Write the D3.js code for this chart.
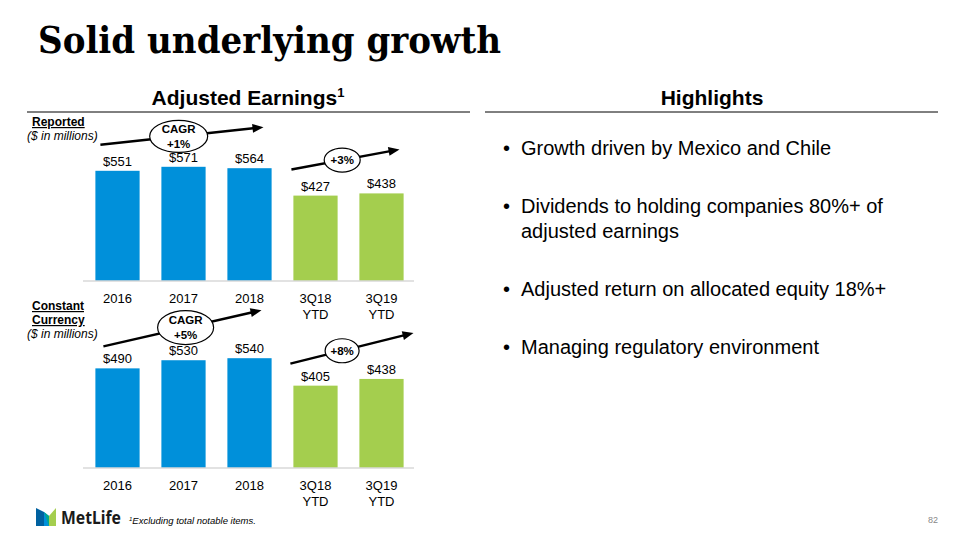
<!DOCTYPE html>
<html>
<head>
<meta charset="utf-8">
<script src="https://cdn.jsdelivr.net/npm/d3@7"></script>
<style>
  html, body { margin: 0; padding: 0; background: #fff; }
  svg { display: block; }
</style>
</head>
<body>
<svg id="chart" width="960" height="540"></svg>
<script>
// ---------- data ----------
const categories = ["2016", "2017", "2018", "3Q18 YTD", "3Q19 YTD"];
const reportedValues = [551, 571, 564, 427, 438];
const constantValues = [490, 530, 540, 405, 438];
const barTypes = ["annual", "annual", "annual", "ytd", "ytd"];
const reportedGrowth = ["CAGR\n+1%", "+3%"];
const constantGrowth = ["CAGR\n+5%", "+8%"];
const highlights = [
  ["Growth driven by Mexico and Chile"],
  ["Dividends to holding companies 80%+ of", "adjusted earnings"],
  ["Adjusted return on allocated equity 18%+"],
  ["Managing regulatory environment"]
];

// ---------- setup ----------
const svg = d3.select("#chart");
const SANS = "'Liberation Sans', Arial, sans-serif";
const color = d3.scaleOrdinal().domain(["annual", "ytd"]).range(["#0090DA", "#A4CE4E"]);

// main title
svg.append("text")
  .attr("x", 38).attr("y", 53)
  .attr("font-family", "'DejaVu Serif', Georgia, serif")
  .attr("font-weight", "bold").attr("font-size", 37)
  .attr("textLength", 463).attr("lengthAdjust", "spacingAndGlyphs")
  .attr("fill", "#000")
  .text("Solid underlying growth");

// section headers
const h1 = svg.append("text")
  .attr("x", 248).attr("y", 105).attr("text-anchor", "middle")
  .attr("font-family", SANS).attr("font-weight", "bold").attr("font-size", 21)
  .attr("fill", "#000");
h1.append("tspan").text("Adjusted Earnings");
h1.append("tspan").attr("font-size", 13).attr("dy", -8).text("1");

svg.append("line").attr("x1", 27).attr("x2", 470).attr("y1", 112).attr("y2", 112)
  .attr("stroke", "#000").attr("stroke-width", 1);

svg.append("text")
  .attr("x", 712).attr("y", 105).attr("text-anchor", "middle")
  .attr("font-family", SANS).attr("font-weight", "bold").attr("font-size", 21)
  .attr("fill", "#000").text("Highlights");

svg.append("line").attr("x1", 485).attr("x2", 938).attr("y1", 112).attr("y2", 112)
  .attr("stroke", "#000").attr("stroke-width", 1);

// highlights bullets
const bulletTops = [155, 213, 296, 354];
highlights.forEach((lines, i) => {
  svg.append("text")
    .attr("x", 503).attr("y", bulletTops[i])
    .attr("font-family", SANS).attr("font-size", 20).attr("fill", "#000")
    .text("•");
  lines.forEach((ln, j) => {
    svg.append("text")
      .attr("x", 521).attr("y", bulletTops[i] + j * 25)
      .attr("font-family", SANS).attr("font-size", 20).attr("fill", "#000")
      .text(ln);
  });
});

// ---------- bar charts ----------
const x = d3.scaleBand().domain(categories).range([84.5, 414.5])
  .paddingInner(0.33).paddingOuter(0.165);

function drawChart(cfg) {
  const y = d3.scaleLinear().domain([0, 600]).range([cfg.base, cfg.base - cfg.h]);
  const g = svg.append("g");

  // side labels
  cfg.labels.forEach((l, i) => {
    const t = g.append("text")
      .attr("x", l.italic ? 27 : 32).attr("y", cfg.labelY + i * 14)
      .attr("font-family", SANS).attr("font-size", 12).attr("fill", "#000")
      .text(l.text);
    if (l.italic) t.attr("font-style", "italic");
    else t.attr("font-weight", "bold").attr("text-decoration", "underline");
  });

  // bars
  g.selectAll("rect.bar").data(cfg.values).join("rect")
    .attr("class", "bar")
    .attr("x", (d, i) => x(categories[i]))
    .attr("width", x.bandwidth())
    .attr("y", d => y(d))
    .attr("height", d => y(0) - y(d))
    .attr("fill", (d, i) => color(barTypes[i]));

  // value labels
  g.selectAll("text.val").data(cfg.values).join("text")
    .attr("class", "val")
    .attr("x", (d, i) => x(categories[i]) + x.bandwidth() / 2)
    .attr("y", d => y(d) - 5)
    .attr("text-anchor", "middle")
    .attr("font-family", SANS).attr("font-size", 13).attr("fill", "#000")
    .text(d => "$" + d);

  // axis
  const axis = g.append("g").attr("transform", `translate(0,${cfg.base})`)
    .call(d3.axisBottom(x).tickSize(0).tickPadding(0));
  axis.select(".domain").attr("stroke", "#D9D9D9").attr("stroke-width", 1.5)
    .attr("d", `M83,0H414`);
  axis.selectAll(".tick text").each(function (d) {
    const t = d3.select(this);
    t.text(null).attr("y", 0).attr("dy", null)
      .attr("font-family", SANS).attr("font-size", 13).attr("fill", "#000");
    d.split(" ").forEach((w, k) => {
      t.append("tspan").attr("x", 0).attr("y", 22 + k * 16).text(w);
    });
  });

  // growth arrows
  cfg.arrows.forEach((a, idx) => {
    const x1 = x(categories[a.from]) + a.dx1;
    const x2 = x(categories[a.to]) + x.bandwidth() / 2 + a.dx2;
    const y1 = y(cfg.values[a.from]) + a.dy1;
    const y2 = y(cfg.values[a.to]) + a.dy2;
    const ag = g.append("g");
    const ang = Math.atan2(y2 - y1, x2 - x1);
    ag.append("line").attr("x1", x1).attr("y1", y1)
      .attr("x2", x2 - 8 * Math.cos(ang)).attr("y2", y2 - 8 * Math.sin(ang))
      .attr("stroke", "#000").attr("stroke-width", 2.5);
    const hl = 11, hw = 4.5;
    const p = [
      [x2, y2],
      [x2 - hl * Math.cos(ang) + hw * Math.sin(ang), y2 - hl * Math.sin(ang) - hw * Math.cos(ang)],
      [x2 - hl * Math.cos(ang) - hw * Math.sin(ang), y2 - hl * Math.sin(ang) + hw * Math.cos(ang)]
    ];
    ag.append("path").attr("d", d3.line()(p) + "Z").attr("fill", "#000");
    const cx = x1 + (x2 - x1) * a.t, cy = y1 + (y2 - y1) * a.t;
    ag.append("ellipse").attr("cx", cx).attr("cy", cy).attr("rx", a.rx).attr("ry", a.ry)
      .attr("fill", "#fff").attr("stroke", "#000").attr("stroke-width", 1.2);
    const lines = cfg.growth[idx].split("\n");
    lines.forEach((ln, k) => {
      ag.append("text").attr("x", cx)
        .attr("y", cy + 4 + (k - (lines.length - 1) / 2) * 15)
        .attr("text-anchor", "middle")
        .attr("font-family", SANS).attr("font-weight", "bold").attr("font-size", 11.5)
        .attr("fill", "#000").text(ln);
    });
  });
}

drawChart({
  values: reportedValues, growth: reportedGrowth, base: 281, h: 120, labelY: 126,
  labels: [{ text: "Reported" }, { text: "($ in millions)", italic: true }],
  arrows: [
    { from: 0, to: 2, dx1: 5, dx2: 14, dy1: -26, dy2: -41, t: 0.48, rx: 29, ry: 16 },
    { from: 3, to: 4, dx1: -2, dx2: 18, dy1: -26, dy2: -44, t: 0.47, rx: 18, ry: 12 }
  ]
});

drawChart({
  values: constantValues, growth: constantGrowth, base: 468, h: 122, labelY: 310,
  labels: [{ text: "Constant" }, { text: "Currency" }, { text: "($ in millions)", italic: true }],
  arrows: [
    { from: 0, to: 2, dx1: 8, dx2: 12, dy1: -22, dy2: -48, t: 0.52, rx: 28, ry: 17 },
    { from: 3, to: 4, dx1: -3, dx2: 32, dy1: -22, dy2: -46, t: 0.42, rx: 17, ry: 12 }
  ]
});

// ---------- footer ----------
const logo = svg.append("g");
logo.append("path").attr("d", "M36,508 L44,512 L44,526 L36,526 Z").attr("fill", "#0061A0");
logo.append("path").attr("d", "M44,512 L49,516 L49,526 L44,526 Z").attr("fill", "#0090DA");
logo.append("path").attr("d", "M49,516 L56,508 L56,526 L49,526 Z").attr("fill", "#A4CE4E");
logo.append("path").attr("d", "M44,512 L49,516 L49,526 Z").attr("fill", "#00A88F");
svg.append("text").attr("x", 61).attr("y", 524)
  .attr("font-family", "'Noto Sans', sans-serif").attr("font-weight", "bold").attr("font-size", 18)
  .attr("fill", "#1a1a1a").attr("textLength", 60).attr("lengthAdjust", "spacingAndGlyphs")
  .text("MetLife");
const fn = svg.append("text").attr("x", 129).attr("y", 524)
  .attr("font-family", SANS).attr("font-style", "italic").attr("font-size", 9.5).attr("fill", "#000");
fn.append("tspan").attr("font-size", 6).attr("dy", -3).text("1");
fn.append("tspan").attr("dy", 3).text("Excluding total notable items.");
svg.append("text").attr("x", 933).attr("y", 523).attr("text-anchor", "middle")
  .attr("font-family", SANS).attr("font-size", 9).attr("fill", "#888").text("82");
</script>
</body>
</html>
